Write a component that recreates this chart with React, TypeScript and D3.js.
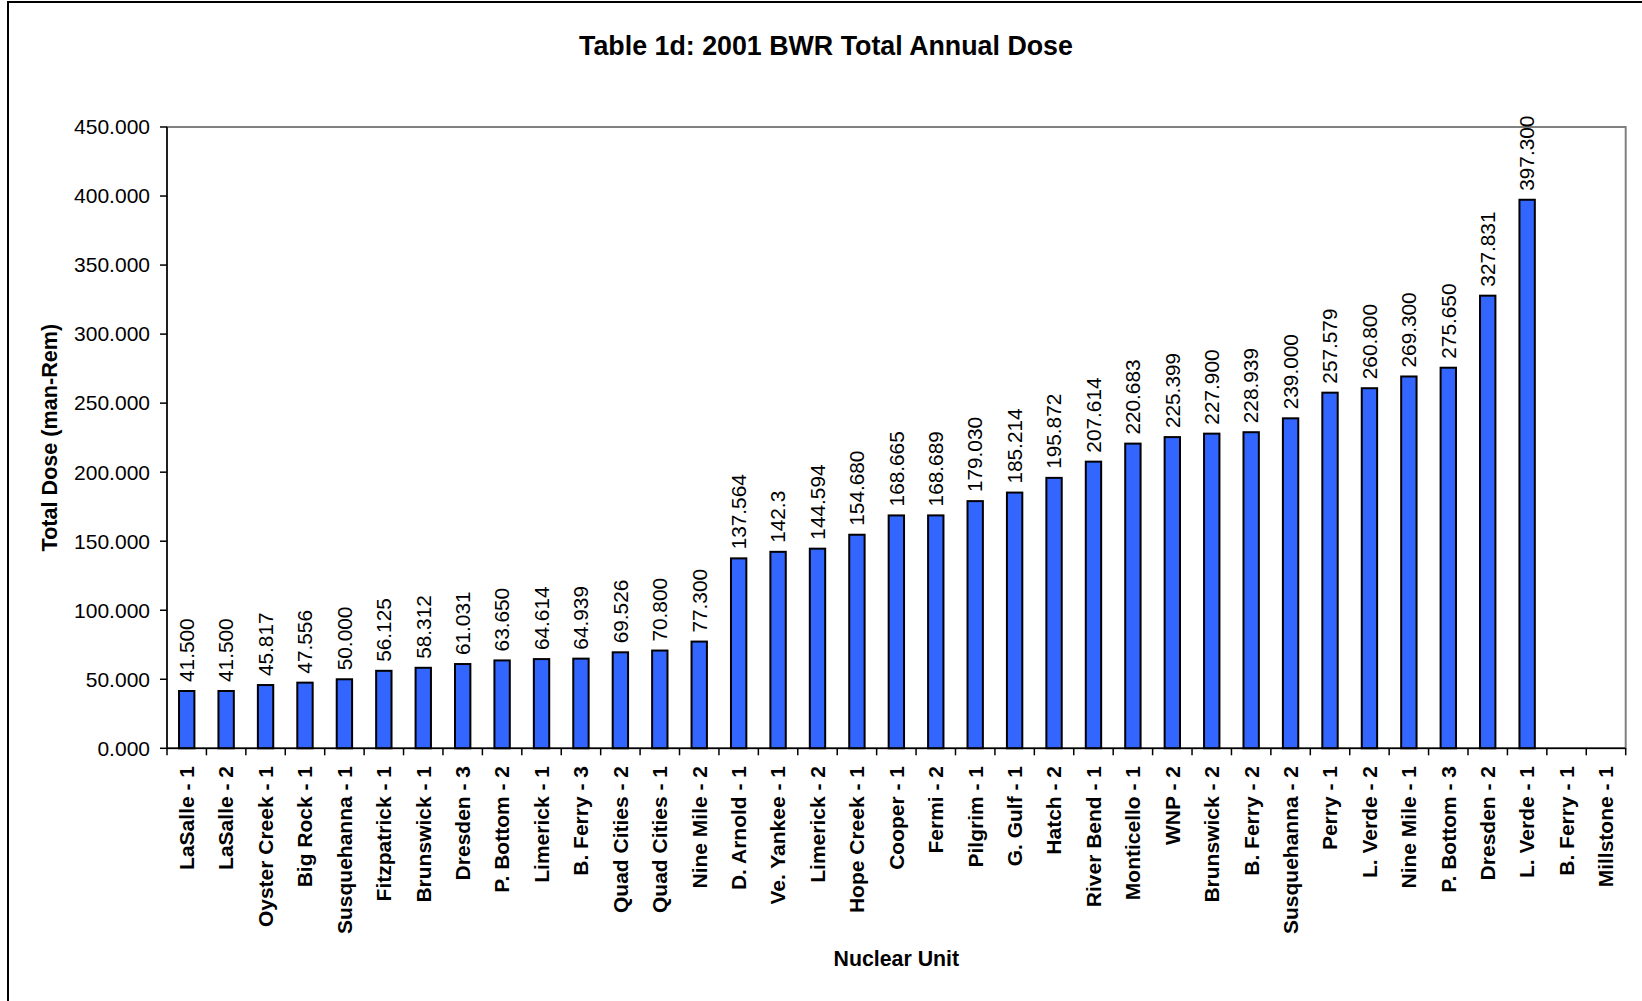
import { useMemo } from 'react';
import * as d3 from 'd3';

// Chart data
const units = [
  'LaSalle - 1', 'LaSalle - 2', 'Oyster Creek - 1', 'Big Rock - 1', 'Susquehanna - 1',
  'Fitzpatrick - 1', 'Brunswick - 1', 'Dresden - 3', 'P. Bottom - 2', 'Limerick - 1',
  'B. Ferry - 3', 'Quad Cities - 2', 'Quad Cities - 1', 'Nine Mile - 2', 'D. Arnold - 1',
  'Ve. Yankee - 1', 'Limerick - 2', 'Hope Creek - 1', 'Cooper - 1', 'Fermi - 2',
  'Pilgrim - 1', 'G. Gulf - 1', 'Hatch - 2', 'River Bend - 1', 'Monticello - 1',
  'WNP - 2', 'Brunswick - 2', 'B. Ferry - 2', 'Susquehanna - 2', 'Perry - 1',
  'L. Verde - 2', 'Nine Mile - 1', 'P. Bottom - 3', 'Dresden - 2', 'L. Verde - 1',
  'B. Ferry - 1', 'Millstone - 1',
];

const doses: (number | null)[] = [
  41.5, 41.5, 45.817, 47.556, 50.0,
  56.125, 58.312, 61.031, 63.65, 64.614,
  64.939, 69.526, 70.8, 77.3, 137.564,
  142.3, 144.594, 154.68, 168.665, 168.689,
  179.03, 185.214, 195.872, 207.614, 220.683,
  225.399, 227.9, 228.939, 239.0, 257.579,
  260.8, 269.3, 275.65, 327.831, 397.3,
  null, null,
];

// the labels as printed (one of them is not 3 decimals)
const doseLabels = [
  '41.500', '41.500', '45.817', '47.556', '50.000',
  '56.125', '58.312', '61.031', '63.650', '64.614',
  '64.939', '69.526', '70.800', '77.300', '137.564',
  '142.3', '144.594', '154.680', '168.665', '168.689',
  '179.030', '185.214', '195.872', '207.614', '220.683',
  '225.399', '227.900', '228.939', '239.000', '257.579',
  '260.800', '269.300', '275.650', '327.831', '397.300',
  '', '',
];

const yTicks = [0, 50, 100, 150, 200, 250, 300, 350, 400, 450];

const FONT = '"Liberation Sans", Arial, Helvetica, sans-serif';

export default function App() {
  const width = 1642;
  const height = 1001;
  const plot = { left: 167, right: 1625.7, top: 127, bottom: 748.3 };

  const x = useMemo(
    () => d3.scaleBand<string>().domain(units).range([plot.left, plot.right]).paddingInner(0.61).paddingOuter(0.305),
    [],
  );
  const y = useMemo(
    () => d3.scaleLinear().domain([0, 450]).range([plot.bottom, plot.top]),
    [],
  );
  const fmt = d3.format('.3f');
  const step = (plot.right - plot.left) / units.length;

  return (
    <svg
      width={width}
      height={height}
      style={{ position: 'absolute', left: 0, top: 0, background: '#fff' }}
      fontFamily={FONT}
    >
      {/* outer chart frame (only left and top edges are visible) */}
      <line x1={8} y1={1} x2={8} y2={height} stroke="#000" strokeWidth={2} />
      <line x1={7} y1={2} x2={width} y2={2} stroke="#000" strokeWidth={2} />

      {/* plot area border */}
      <rect
        x={plot.left}
        y={plot.top}
        width={plot.right - plot.left}
        height={plot.bottom - plot.top}
        fill="none"
        stroke="#808080"
        strokeWidth={2}
      />

      <text x={826} y={55} textAnchor="middle" fontSize={26.8} fontWeight="bold">
        Table 1d: 2001 BWR Total Annual Dose
      </text>

      {/* y axis */}
      <line x1={plot.left} y1={plot.top} x2={plot.left} y2={plot.bottom} stroke="#000" strokeWidth={1.5} />
      {yTicks.map((t) => (
        <g key={t}>
          <line x1={plot.left - 7} x2={plot.left} y1={y(t)} y2={y(t)} stroke="#000" strokeWidth={1.5} />
          <text x={150} y={y(t)} dy="0.35em" textAnchor="end" fontSize={21}>
            {fmt(t)}
          </text>
        </g>
      ))}
      <text
        transform={`translate(49, ${(plot.top + plot.bottom) / 2}) rotate(-90)`}
        dy="0.35em"
        textAnchor="middle"
        fontSize={21.6}
        fontWeight="bold"
      >
        Total Dose (man-Rem)
      </text>

      {/* bars */}
      {units.map((u, i) => {
        const v = doses[i];
        if (v == null) return null;
        return (
          <rect
            key={u + i}
            x={x(u)}
            y={y(v)}
            width={x.bandwidth()}
            height={y(0) - y(v)}
            fill="#3366FF"
            stroke="#000"
            strokeWidth={2}
          />
        );
      })}

      {/* value labels */}
      {units.map((u, i) => {
        const v = doses[i];
        if (v == null) return null;
        const cx = (x(u) ?? 0) + x.bandwidth() / 2;
        return (
          <text
            key={'v' + i}
            transform={`translate(${cx}, ${y(v) - 9}) rotate(-90)`}
            dy="0.35em"
            textAnchor="start"
            fontSize={20.8}
          >
            {doseLabels[i]}
          </text>
        );
      })}

      {/* x axis */}
      <line x1={plot.left} y1={plot.bottom} x2={plot.right} y2={plot.bottom} stroke="#000" strokeWidth={1.5} />
      {d3.range(units.length + 1).map((k) => (
        <line
          key={'xt' + k}
          x1={plot.left + k * step}
          x2={plot.left + k * step}
          y1={plot.bottom}
          y2={plot.bottom + 7}
          stroke="#000"
          strokeWidth={1.5}
        />
      ))}
      {units.map((u, i) => (
        <text
          key={'xl' + i}
          transform={`translate(${(x(u) ?? 0) + x.bandwidth() / 2}, 766) rotate(-90)`}
          dy="0.35em"
          textAnchor="end"
          fontSize={21}
          fontWeight="bold"
        >
          {u}
        </text>
      ))}
      <text x={(plot.left + plot.right) / 2} y={966} textAnchor="middle" fontSize={21.3} fontWeight="bold">
        Nuclear Unit
      </text>
    </svg>
  );
}
